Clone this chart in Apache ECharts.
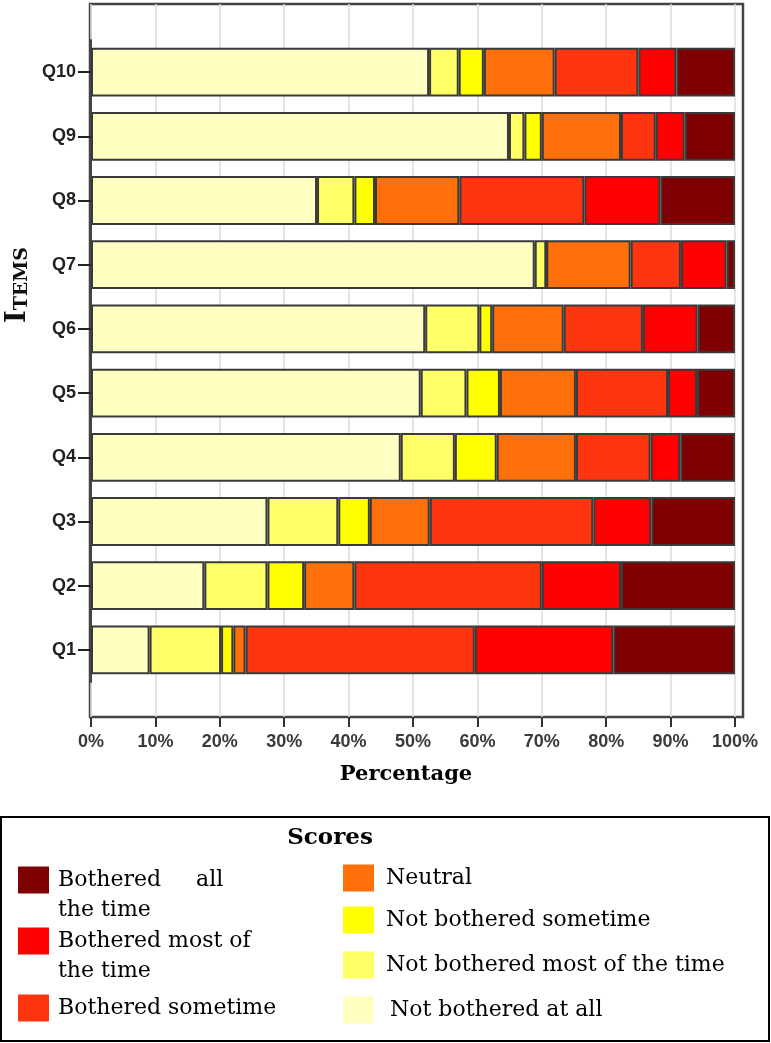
<!DOCTYPE html>
<html>
<head>
<meta charset="utf-8">
<script src="https://cdn.jsdelivr.net/npm/echarts@6/dist/echarts.min.js"></script>
<style>
html,body{margin:0;padding:0;background:#fff;}
#c{width:771px;height:1043px;}
</style>
</head>
<body>
<div id="c"></div>
<script>
// ---- data ----
const categories = ['Q1','Q2','Q3','Q4','Q5','Q6','Q7','Q8','Q9','Q10'];
const tickLabels = ['0%','10%','20%','30%','40%','50%','60%','70%','80%','90%','100%'];
const seriesNames = [
  'Not bothered at all',
  'Not bothered most of the time',
  'Not bothered sometime',
  'Neutral',
  'Bothered sometime',
  'Bothered most of the time',
  'Bothered all the time'
];
const notBotheredAtAll       = [9.1, 17.6, 27.4, 48.1, 51.2, 51.9, 68.9, 35.1, 64.9, 52.5];
const notBotheredMostOfTime  = [11.1, 9.8, 11.0, 8.4, 7.1, 8.4, 1.8, 5.8, 2.4, 4.6];
const notBotheredSometime    = [1.9, 5.7, 4.9, 6.5, 5.2, 2.0, 0, 3.2, 2.7, 3.9];
const neutral                = [1.9, 7.8, 9.3, 12.3, 11.8, 11.1, 13.1, 13.1, 12.3, 11.0];
const botheredSometime       = [35.6, 29.1, 25.4, 11.6, 14.3, 12.3, 7.8, 19.4, 5.4, 13.0];
const botheredMostOfTime     = [21.5, 12.3, 9.0, 4.6, 4.5, 8.5, 7.1, 11.8, 4.5, 5.9];
const botheredAllTheTime     = [18.9, 17.7, 13.0, 8.5, 5.9, 5.8, 1.3, 11.6, 7.8, 9.1];

const seriesData = [notBotheredAtAll, notBotheredMostOfTime, notBotheredSometime, neutral,
                    botheredSometime, botheredMostOfTime, botheredAllTheTime];

// ---- styles ----
const palette = ['#FFFFC2', '#FFFF66', '#FFFF00', '#FF700A', '#FF3510', '#FF0000', '#7F0000'];

const legendLayout = [
  { name: 'Bothered all the time',         label: '\nBothered     all\nthe time',  left: 18,  top: 835, padLeft: 4 },
  { name: 'Bothered most of the time',     label: '\nBothered most of\nthe time',  left: 18,  top: 896, padLeft: 4 },
  { name: 'Bothered sometime',             label: 'Bothered sometime',             left: 18,  top: 993, padLeft: 4 },
  { name: 'Neutral',                       label: 'Neutral',                       left: 343, top: 863, padLeft: 7 },
  { name: 'Not bothered sometime',         label: 'Not bothered sometime',         left: 343, top: 905, padLeft: 7 },
  { name: 'Not bothered most of the time', label: 'Not bothered most of the time', left: 343, top: 950, padLeft: 7 },
  { name: 'Not bothered at all',           label: 'Not bothered at all',           left: 343, top: 995, padLeft: 11 }
];

const serifFont = 'DejaVu Serif';
const sansFont = 'Liberation Sans';

const chart = echarts.init(document.getElementById('c'), null, { renderer: 'canvas' });

const option = {
  animation: false,
  backgroundColor: '#ffffff',
  grid: [
    { left: 90, top: 4, width: 653, height: 713, show: true, borderColor: '#444', borderWidth: 2.5, backgroundColor: 'transparent' },
    { left: 91, top: 4, width: 644, height: 713 },
    { left: 91, top: 40, width: 644, height: 642 }
  ],
  xAxis: [
    { gridIndex: 0, type: 'value', show: false },
    {
      gridIndex: 1, type: 'value', min: 0, max: 100, interval: 10,
      axisLine: { show: false },
      axisTick: { show: true, length: 10, lineStyle: { color: '#333', width: 2 } },
      axisLabel: {
        margin: 16, fontSize: 18, fontWeight: 'bold', color: '#3a3a3a', fontFamily: sansFont,
        formatter: function (v) { return tickLabels[Math.round(v / 10)]; }
      },
      splitLine: { show: true, lineStyle: { color: '#dcdcdc', width: 1.5 } },
      name: 'Percentage', nameLocation: 'middle', nameGap: 47,
      nameTextStyle: { fontFamily: serifFont, fontWeight: 'bold', fontSize: 21, color: '#000', padding: [0, 14, 0, 0] }
    },
    { gridIndex: 2, type: 'value', min: 0, max: 100, show: false }
  ],
  yAxis: [
    { gridIndex: 0, type: 'value', show: false },
    { gridIndex: 1, type: 'value', show: false },
    {
      gridIndex: 2, type: 'category', data: categories,
      axisLine: { show: true, lineStyle: { color: '#444', width: 2 } },
      axisTick: { show: true, alignWithLabel: true, length: 13, lineStyle: { color: '#222', width: 2 } },
      axisLabel: { margin: 15, fontSize: 18, fontWeight: 'bold', color: '#222', fontFamily: sansFont },
      splitLine: { show: false }
    }
  ],
  legend: legendLayout.map(function (l) {
    return {
      data: [l.name],
      left: l.left, top: l.top, padding: 0,
      icon: 'rect', itemWidth: 31, itemHeight: 27,
      selectedMode: false,
      itemStyle: { borderWidth: 0 },
      formatter: function () { return l.label; },
      textStyle: { fontFamily: serifFont, fontSize: 22, color: '#000', lineHeight: 30, padding: [0, 0, 0, l.padLeft] }
    };
  }),
  graphic: [
    {
      type: 'rect', silent: true,
      shape: { x: 1, y: 817, width: 768, height: 224 },
      style: { fill: 'none', stroke: '#000', lineWidth: 2 }
    },
    {
      type: 'text', silent: true, x: 330, y: 838,
      style: { text: 'Scores', fontFamily: serifFont, fontWeight: 'bold', fontSize: 23, fill: '#000', align: 'center', verticalAlign: 'middle' }
    },
    {
      type: 'text', silent: true, x: 18, y: 285, rotation: Math.PI / 2,
      style: {
        text: '{a|I}{b|TEMS}', align: 'center', verticalAlign: 'middle',
        rich: {
          a: { fontFamily: serifFont, fontWeight: 'bold', fontSize: 27, fill: '#111', verticalAlign: 'bottom' },
          b: { fontFamily: serifFont, fontWeight: 'bold', fontSize: 19, fill: '#111', verticalAlign: 'bottom' }
        }
      }
    }
  ],
  series: seriesNames.map(function (n, i) {
    return {
      name: n, type: 'bar', stack: 'all',
      xAxisIndex: 2, yAxisIndex: 2,
      barWidth: '76%',
      data: seriesData[i],
      itemStyle: { color: palette[i], borderColor: '#3a3a3a', borderWidth: 2 },
      emphasis: { disabled: true }
    };
  })
};

chart.setOption(option);
</script>
</body>
</html>
